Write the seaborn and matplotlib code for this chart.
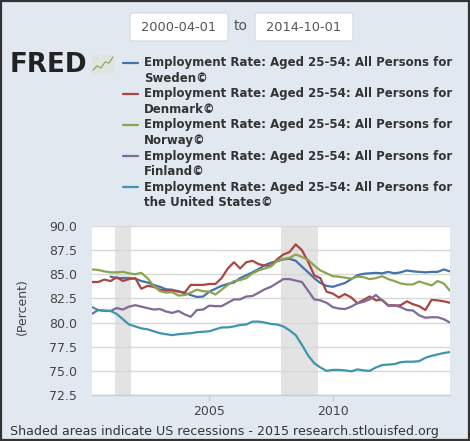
import numpy as np
import pandas as pd
import matplotlib
matplotlib.use("Agg")
import matplotlib.pyplot as plt
from matplotlib.patches import Rectangle, FancyBboxPatch
from matplotlib.lines import Line2D
import seaborn as sns

# ---------------- data (quarterly, 2000Q2 .. 2014Q4) ----------------
start_date = "2000-04-01"
end_date = "2014-10-01"

sweden = [np.nan, np.nan, np.nan, 84.75, 84.6, 84.6, 84.6, 84.55, 84.3, 84.15,
          83.9, 83.7, 83.45, 83.4, 83.25, 83.05, 82.85, 82.65, 82.7, 83.2,
          83.5, 83.8, 84.0, 84.15, 84.6, 84.9, 85.2, 85.55, 85.95, 86.2,
          86.35, 86.55, 86.6, 86.4, 85.8, 85.2, 84.6, 84.1, 83.8, 83.7,
          83.9, 84.1, 84.5, 84.9, 85.05, 85.1, 85.15, 85.1, 85.25, 85.1,
          85.2, 85.4, 85.3, 85.25, 85.2, 85.25, 85.25, 85.5, 85.3]

denmark = [84.2, 84.2, 84.45, 84.3, 84.7, 84.3, 84.5, 84.6, 83.5, 83.8,
           83.7, 83.4, 83.3, 83.3, 83.2, 83.1, 83.9, 83.9, 83.9, 84.0,
           84.0, 84.6, 85.6, 86.25, 85.6, 86.25, 86.4, 86.05, 85.9, 85.9,
           86.55, 87.05, 87.3, 88.1, 87.5, 86.3, 84.9, 84.6, 83.2, 83.0,
           82.6, 82.95, 82.6, 82.0, 82.35, 82.7, 82.3, 82.35, 81.75, 81.75,
           81.8, 82.2, 81.9, 81.7, 81.3, 82.35, 82.3, 82.2, 82.05]

norway = [85.5, 85.45, 85.3, 85.2, 85.2, 85.25, 85.1, 85.0, 85.15, 84.6,
          83.8, 83.25, 83.1, 83.15, 82.8, 82.85, 83.1, 83.4, 83.25, 83.2,
          82.9, 83.4, 83.9, 84.3, 84.4, 84.6, 85.1, 85.4, 85.6, 85.8,
          86.4, 86.6, 86.7, 87.05, 86.8, 86.5, 85.9, 85.4, 85.1, 84.8,
          84.75, 84.65, 84.55, 84.75, 84.7, 84.5, 84.6, 84.8, 84.5, 84.3,
          84.05, 83.95, 83.95, 84.25, 84.05, 83.85, 84.3, 84.05, 83.3]

finland = [80.9, 81.3, 81.25, 81.2, 81.5, 81.35, 81.65, 81.8, 81.65, 81.5,
           81.35, 81.4, 81.15, 81.0, 81.2, 80.85, 80.6, 81.3, 81.35, 81.75,
           81.7, 81.7, 82.05, 82.4, 82.4, 82.7, 82.75, 83.1, 83.45, 83.7,
           84.1, 84.5, 84.5, 84.35, 84.2, 83.3, 82.4, 82.3, 82.05, 81.6,
           81.45, 81.4, 81.65, 82.0, 82.15, 82.4, 82.85, 82.3, 81.8, 81.8,
           81.6, 81.3, 81.25, 80.75, 80.5, 80.55, 80.55, 80.35, 80.0]

united_states = [81.6, 81.3, 81.2, 81.2, 80.9, 80.35, 79.8, 79.6, 79.4, 79.3,
                 79.1, 78.9, 78.8, 78.7, 78.8, 78.85, 78.9, 79.0, 79.05, 79.1,
                 79.3, 79.5, 79.5, 79.6, 79.75, 79.8, 80.1, 80.1, 80.0, 79.85,
                 79.8, 79.6, 79.2, 78.7, 77.7, 76.6, 75.8, 75.35, 75.0, 75.1,
                 75.1, 75.05, 74.95, 75.15, 75.05, 75.0, 75.35, 75.6, 75.65, 75.7,
                 75.9, 75.95, 75.95, 76.0, 76.35, 76.55, 76.7, 76.85, 76.95]

countries = ["Sweden", "Denmark", "Norway", "Finland", "the United States"]
series_values = [sweden, denmark, norway, finland, united_states]
colors = ["#4572a7", "#aa4643", "#89a54e", "#80699b", "#3d96ae"]

recessions = [("2001-03-01", "2001-11-01"), ("2007-12-01", "2009-06-01")]
y_ticks = [72.5, 75.0, 77.5, 80.0, 82.5, 85.0, 87.5, 90.0]
x_tick_years = [2005, 2010]

legend_prefix = "Employment Rate: Aged 25-54: All Persons for"
footer = "Shaded areas indicate US recessions - 2015 research.stlouisfed.org"

# ---------------- build table ----------------
dates = pd.date_range(start_date, end_date, freq="QS")
frames = []
for c, vals in zip(countries, series_values):
    frames.append(pd.DataFrame({"date": dates, "value": vals, "country": c}))
df = pd.concat(frames, ignore_index=True).dropna()

# ---------------- figure ----------------
W, H = 470, 441
BG = "#e1e8f0"
sns.set_theme(style="white")
plt.rcParams["font.family"] = ["DejaVu Sans"]

fig = plt.figure(figsize=(W / 100, H / 100), dpi=100, facecolor=BG)

def fx(px):
    return px / W

def fy(py):
    return 1 - py / H

ax = fig.add_axes([fx(92), fy(395), fx(450) - fx(92), fy(226) - fy(395)])
ax.set_facecolor("white")

for a, b in recessions:
    ax.axvspan(pd.Timestamp(a), pd.Timestamp(b), color="#e3e3e3", lw=0, zorder=0)

sns.lineplot(data=df, x="date", y="value", hue="country", hue_order=countries,
             palette=dict(zip(countries, colors)), estimator=None, sort=True,
             linewidth=1.6, legend=False, ax=ax, zorder=3)

ax.set_xlim(pd.Timestamp(start_date), pd.Timestamp(end_date))
ax.set_ylim(72.5, 90.0)
ax.set_yticks(y_ticks)
ax.set_yticklabels([f"{v:.1f}" for v in y_ticks])
ax.set_xticks([pd.Timestamp(f"{y}-01-01") for y in x_tick_years])
ax.set_xticklabels([str(y) for y in x_tick_years])
ax.set_xlabel("")
ax.set_ylabel("")
ax.grid(False)
ax.yaxis.grid(True, color="#d8d8d8", lw=1)
ax.set_axisbelow(True)
for s in ["top", "left", "right"]:
    ax.spines[s].set_visible(False)
ax.spines["bottom"].set_color("#c0d0e0")
ax.spines["bottom"].set_linewidth(1)
ax.tick_params(axis="y", length=0, pad=11, labelsize=9, labelcolor="#444444")
ax.tick_params(axis="x", length=4, width=1, color="#c0d0e0", direction="out",
               pad=3.5, labelsize=9, labelcolor="#444444", bottom=True)

fig.text(fx(22), fy(307), "(Percent)", rotation=90, ha="center", va="center",
         fontsize=9, color="#444444")

fig.text(fx(10), fy(432), footer, ha="left", va="center", fontsize=9.1, color="#333333")

# date range boxes
for (x0, x1, label) in [(130, 228, start_date), (255, 353, end_date)]:
    box = FancyBboxPatch((fx(x0), fy(41)), fx(x1) - fx(x0), fy(13) - fy(41),
                         boxstyle="round,pad=0,rounding_size=0.006",
                         transform=fig.transFigure, facecolor="white",
                         edgecolor="#d0d8e0", lw=0.8)
    fig.add_artist(box)
    fig.text(fx((x0 + x1) / 2), fy(27.5), label, ha="center", va="center",
             fontsize=9.3, color="#555555")
fig.text(fx(241), fy(26), "to", ha="center", va="center", fontsize=10, color="#555555")

# FRED logo
fig.text(fx(9.5), fy(65), "FRED", ha="left", va="center", fontsize=18.8,
         fontweight="heavy", color="#222222")
fig.add_artist(Rectangle((fx(92), fy(74)), fx(22), fy(55) - fy(74),
                         transform=fig.transFigure, facecolor="#dfe4dc",
                         edgecolor="none"))
fig.add_artist(Line2D([fx(93), fx(97), fx(101), fx(105), fx(109), fx(113)],
                      [fy(70), fy(66), fy(68), fy(62), fy(63), fy(57)],
                      transform=fig.transFigure, color="#8aa870", lw=0.9))

# legend
row0, pitch = 62.5, 31.2
for i, (c, col) in enumerate(zip(countries, colors)):
    yy = row0 + i * pitch
    fig.add_artist(Line2D([fx(123), fx(138)], [fy(yy), fy(yy)],
                          transform=fig.transFigure, color=col, lw=1.6))
    fig.text(fx(144), fy(yy), legend_prefix, ha="left", va="center",
             fontsize=8.45, fontweight="bold", color="#333333")
    fig.text(fx(144), fy(yy + 15.5), c + "\u00a9", ha="left", va="center",
             fontsize=8.45, fontweight="bold", color="#333333")

# outer frame
fig.add_artist(Rectangle((0.002, 0.002), 0.996, 0.996, transform=fig.transFigure,
                         facecolor="none", edgecolor="#333333", lw=1.6))

fig.savefig("out.png", dpi=100, facecolor=BG)
